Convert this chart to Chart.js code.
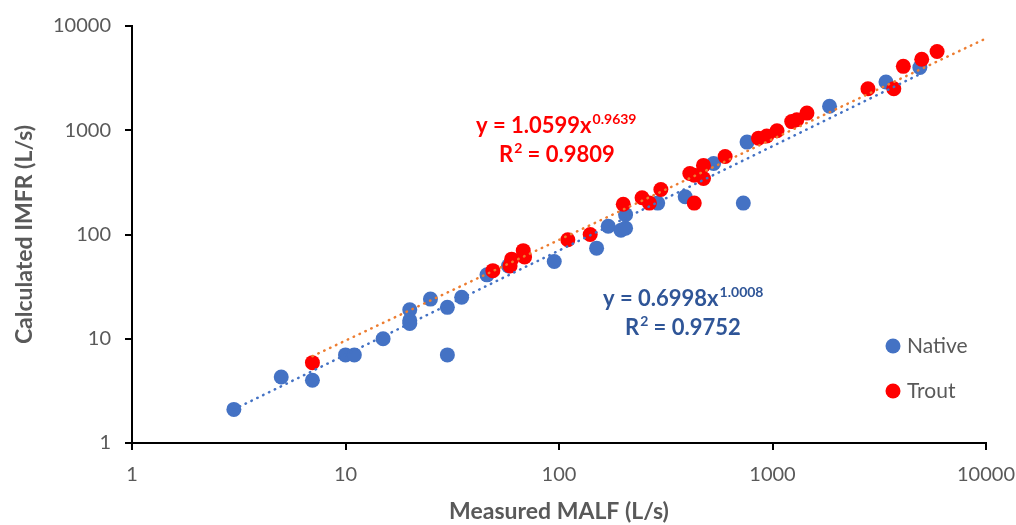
<!DOCTYPE html>
<html>
<head>
<meta charset="utf-8">
<script src="https://cdn.jsdelivr.net/npm/chart.js@4.4.1/dist/chart.umd.min.js"></script>
<style>
  html, body { margin: 0; padding: 0; background: #fff; }
  #wrap { position: relative; width: 1016px; height: 525px; }
</style>
</head>
<body>
<div id="wrap"><canvas id="chart" width="1016" height="525"></canvas></div>
<script>
// Values (log-log scatter)
const nativeX = [3, 5, 7, 10, 11, 15, 20, 20, 20, 25, 30, 30, 35, 46, 58, 95, 150, 170, 195, 205, 205, 290, 390, 530, 730, 760, 1850, 3400, 4900];
const nativeY = [2.1, 4.3, 4, 7, 7, 10, 19, 15, 14, 24, 20, 7, 25, 41, 50, 55, 74, 120, 110, 115, 155, 200, 230, 480, 200, 770, 1700, 2900, 4000];

const troutX = [7, 49, 59, 60, 68, 69, 110, 140, 200, 245, 265, 300, 410, 430, 475, 475, 430, 600, 860, 940, 1050, 1230, 1300, 1450, 2800, 3700, 4100, 5000, 5900];
const troutY = [5.9, 45, 50, 58, 70, 61, 89, 100, 195, 225, 200, 270, 385, 370, 460, 345, 200, 560, 840, 880, 990, 1210, 1260, 1460, 2500, 2500, 4100, 4800, 5700];

// trendline end points (power fits are straight on log-log axes)
const nativeTrendX = [3, 4900];
const nativeTrendY = [2.1, 3450];
const troutTrendX = [7, 10000];
const troutTrendY = [6.8, 7600];

const tickValues = [1, 10, 100, 1000, 10000];
const seriesNames = ['Native', 'Trout'];
const nativeEq = ['y = 0.6998x', '1.0008', '0.9752'];
const troutEq = ['y = 1.0599x', '0.9639', '0.9809'];

const BLUE = '#4472C4';
const RED = '#FF0000';
const ORANGE = '#ED7D31';
const GREY = '#595959';
const FONT = 'Lato, "Open Sans", sans-serif';

function toPoints(xs, ys) {
    return xs.map(function(x, i) { return { x: x, y: ys[i] }; });
}

// legend + equation labels drawn inside the plot
const labelsPlugin = {
    id: 'labels',
    afterDraw: function(chart) {
        const ctx = chart.ctx;
        ctx.save();

        // legend
        const items = [[seriesNames[0], BLUE, 346], [seriesNames[1], RED, 391]];
        items.forEach(function(it) {
            ctx.fillStyle = it[1];
            ctx.beginPath();
            ctx.arc(893, it[2], 7.5, 0, Math.PI * 2);
            ctx.fill();
            ctx.fillStyle = GREY;
            ctx.font = '21px ' + FONT;
            ctx.textBaseline = 'middle';
            ctx.textAlign = 'left';
            ctx.fillText(it[0], 907, it[2]);
        });

        function drawEq(eq, x1, y1, x2, y2, color) {
            ctx.fillStyle = color;
            ctx.textBaseline = 'middle';
            ctx.textAlign = 'left';
            ctx.font = 'bold 22px ' + FONT;
            ctx.fillText(eq[0], x1, y1);
            let w = ctx.measureText(eq[0]).width;
            ctx.font = 'bold 14px ' + FONT;
            ctx.fillText(eq[1], x1 + w + 1, y1 - 7);

            ctx.font = 'bold 22px ' + FONT;
            ctx.fillText('R', x2, y2);
            w = ctx.measureText('R').width;
            ctx.font = 'bold 14px ' + FONT;
            ctx.fillText('2', x2 + w + 1, y2 - 7);
            const w2 = ctx.measureText('2').width;
            ctx.font = 'bold 22px ' + FONT;
            ctx.fillText(' = ' + eq[2], x2 + w + w2 + 1, y2);
        }
        drawEq(troutEq, 476, 126, 499, 155, RED);
        drawEq(nativeEq, 603, 299, 625, 328, '#2F5597');

        ctx.restore();
    }
};

const axisCommon = {
    type: 'logarithmic',
    min: 1,
    max: 10000,
    afterBuildTicks: function(scale) {
        scale.ticks = tickValues.map(function(v) { return { value: v }; });
    },
    border: { display: true, color: '#000', width: 2 },
    grid: { display: true, drawOnChartArea: false, drawTicks: true, tickLength: 7, color: '#000', lineWidth: 2 }
};

const ctx = document.getElementById('chart').getContext('2d');
new Chart(ctx, {
    type: 'scatter',
    data: {
        datasets: [
            {
                type: 'line',
                label: 'Trout trend',
                data: toPoints(troutTrendX, troutTrendY),
                borderColor: ORANGE,
                borderWidth: 2.5,
                borderDash: [0.5, 6],
                borderCapStyle: 'round',
                pointRadius: 0,
                fill: false,
                order: 0
            },
            {
                type: 'line',
                label: 'Native trend',
                data: toPoints(nativeTrendX, nativeTrendY),
                borderColor: BLUE,
                borderWidth: 2.5,
                borderDash: [0.5, 6],
                borderCapStyle: 'round',
                pointRadius: 0,
                fill: false,
                order: 0
            },
            {
                label: seriesNames[1],
                data: toPoints(troutX, troutY),
                backgroundColor: RED,
                borderWidth: 0,
                pointRadius: 7.5,
                order: 1
            },
            {
                label: seriesNames[0],
                data: toPoints(nativeX, nativeY),
                backgroundColor: BLUE,
                borderWidth: 0,
                pointRadius: 7.5,
                order: 2
            }
        ]
    },
    options: {
        responsive: false,
        animation: false,
        layout: { padding: { top: 26, right: 0, left: 0, bottom: 0 } },
        plugins: {
            legend: { display: false },
            tooltip: { enabled: false }
        },
        scales: {
            x: Object.assign({}, axisCommon, {
                position: 'bottom',
                afterFit: function(scale) {
                    scale.height = 82;
                    scale.paddingRight = 30;
                    scale.paddingLeft = 0;
                },
                ticks: {
                    color: GREY,
                    font: { family: FONT, size: 20 },
                    padding: 13,
                    maxRotation: 0,
                    callback: function(v) { return String(v); }
                },
                title: {
                    display: true,
                    text: 'Measured MALF (L/s)',
                    color: GREY,
                    font: { family: FONT, size: 23, weight: 'bold' },
                    padding: { top: 0, bottom: 0 }
                }
            }),
            y: Object.assign({}, axisCommon, {
                position: 'left',
                afterFit: function(scale) { scale.width = 132; },
                ticks: {
                    color: GREY,
                    font: { family: FONT, size: 20 },
                    padding: 14,
                    callback: function(v) { return String(v); }
                },
                title: {
                    display: true,
                    text: 'Calculated IMFR (L/s)',
                    color: GREY,
                    font: { family: FONT, size: 23, weight: 'bold' },
                    padding: { top: 11, bottom: 0 }
                }
            })
        }
    },
    plugins: [labelsPlugin]
});
</script>
</body>
</html>
